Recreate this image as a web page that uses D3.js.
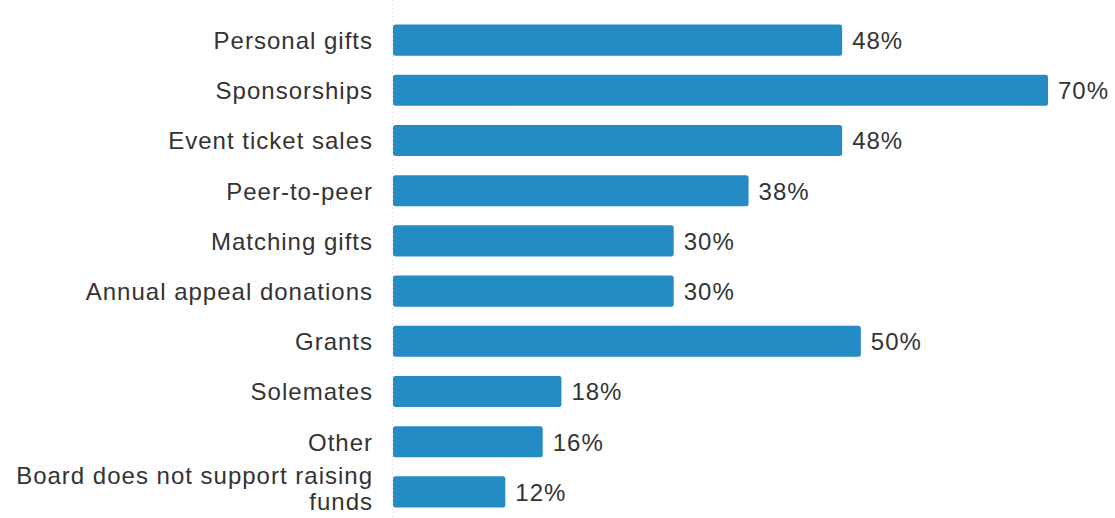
<!DOCTYPE html>
<html>
<head>
<meta charset="utf-8">
<script src="https://cdn.jsdelivr.net/npm/d3@7"></script>
<style>
  body { margin: 0; background: #fff; }
  svg text { font-family: "Liberation Sans", Arial, sans-serif; fill: #333; letter-spacing: 1px; }
</style>
</head>
<body>
<div id="chart"></div>
<script>
// categories and shares (percent of respondents)
const categories = [
  "Personal gifts",
  "Sponsorships",
  "Event ticket sales",
  "Peer-to-peer",
  "Matching gifts",
  "Annual appeal donations",
  "Grants",
  "Solemates",
  "Other",
  "Board does not support raising funds"
];
const values = [48, 70, 48, 38, 30, 30, 50, 18, 16, 12];
// wrapped label lines for long names
const labelLines = {
  "Board does not support raising funds": ["Board does not support raising", "funds"]
};

const W = 1115, H = 518;
const left = 393;
const fontSize = 24;
const lineH = 26;
const labelX = 373;

const svg = d3.select("#chart").append("svg")
  .attr("width", W)
  .attr("height", H);

const x = d3.scaleLinear().domain([0, 70]).range([left, 1048]);
const y = d3.scaleBand().domain(categories).range([15, 517]).paddingInner(0.38).paddingOuter(0.19);

// faint baseline
svg.append("line")
  .attr("x1", left - 0.5).attr("x2", left - 0.5)
  .attr("y1", 0).attr("y2", H)
  .attr("stroke", "#ddd")
  .attr("stroke-dasharray", "1,3");

const rows = categories.map((c, i) => ({ cat: c, val: values[i] }));

svg.selectAll(".bar")
  .data(rows)
  .join("rect")
  .attr("class", "bar")
  .attr("x", x(0))
  .attr("y", d => y(d.cat))
  .attr("width", d => x(d.val) - x(0))
  .attr("height", y.bandwidth())
  .attr("rx", 2.5)
  .attr("fill", "#248bc4");

svg.selectAll(".val")
  .data(rows)
  .join("text")
  .attr("class", "val")
  .attr("x", d => x(d.val) + 10)
  .attr("y", d => y(d.cat) + y.bandwidth() / 2)
  .attr("dy", "0.37em")
  .attr("font-size", fontSize)
  .text(d => d.val + "%");

const lab = svg.selectAll(".cat")
  .data(rows)
  .join("text")
  .attr("class", "cat")
  .attr("text-anchor", "end")
  .attr("font-size", fontSize)
  .attr("x", labelX)
  .attr("y", d => y(d.cat) + y.bandwidth() / 2);

lab.each(function (d) {
  const lines = labelLines[d.cat] || [d.cat];
  const t = d3.select(this);
  const off = lines.length > 1 ? -8 : 0.37 * fontSize;
  lines.forEach((l, i) => {
    t.append("tspan")
      .attr("x", labelX)
      .attr("dy", i === 0 ? off : lineH)
      .text(l);
  });
});
</script>
</body>
</html>
